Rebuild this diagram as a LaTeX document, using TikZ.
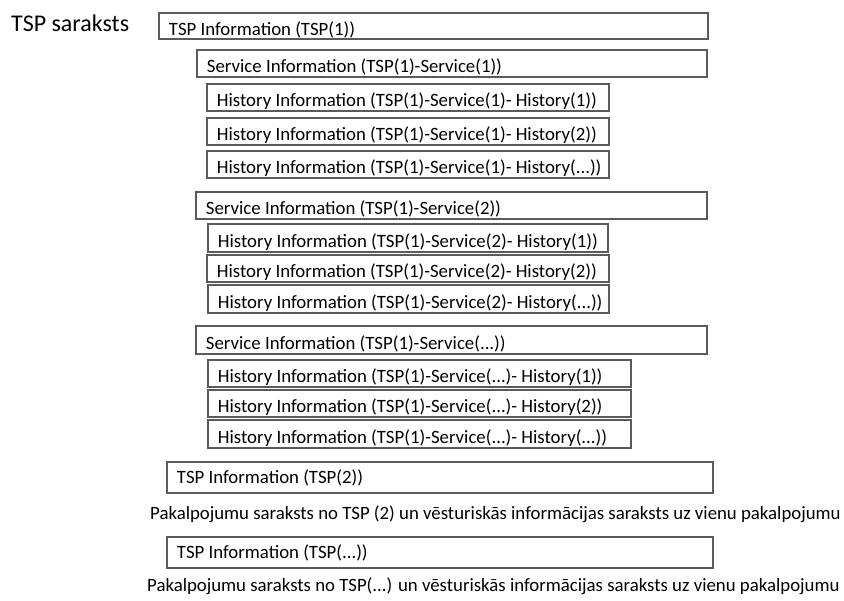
\documentclass[tikz,border=0pt]{standalone}
\usepackage{fontspec}
\setmainfont{Carlito}
\definecolor{boxline}{RGB}{90,90,90}
\newcommand\infobox[6]{%
  \pgfmathsetmacro\tw{#4-#2-20}%
  \node[bx, minimum width={(#4-#2)*1pt}, minimum height={(#5-#3)*1pt}] (#1) at (#2,#3) {\makebox[\tw pt][l]{#6}};%
}
\begin{document}
\begin{tikzpicture}[x=1pt,y=-1pt,
  bx/.style={draw=boxline, line width=1.9pt, anchor=north west, inner xsep=10pt, inner ysep=0pt,
    text height=20pt, text depth=1pt, font=\fontsize{18.8}{22}\selectfont},
  lowtext/.style={text height=14pt, text depth=2pt},
  note/.style={anchor=base west, inner sep=0pt, font=\fontsize{18.8}{22}\selectfont},
  ttl/.style={anchor=base west, inner sep=0pt, font=\fontsize{24}{28}\selectfont}]
\useasboundingbox (0,0) rectangle (844,601);
\node[ttl] (title) at (11,32) {TSP saraksts};
\infobox{t1}{158}{12}{707}{38}{TSP Information (TSP(1))}
\infobox{s11}{196}{49}{706}{76}{Service Information (TSP(1)-Service(1))}
\infobox{h111}{206}{83}{608}{110}{History Information (TSP(1)-Service(1)- History(1))}
\infobox{h112}{206}{117}{608}{144}{History Information (TSP(1)-Service(1)- History(2))}
\infobox{h113}{206}{150}{608}{177}{History Information (TSP(1)-Service(1)- History(...))}
\infobox{s12}{195}{191}{706}{218}{Service Information (TSP(1)-Service(2))}
\infobox{h121}{207}{223}{607}{251}{History Information (TSP(1)-Service(2)- History(1))}
\infobox{h122}{206}{254}{608}{281}{History Information (TSP(1)-Service(2)- History(2))}
\infobox{h123}{207}{284}{608}{312}{History Information (TSP(1)-Service(2)- History(...))}
\infobox{s1x}{195}{325}{706}{353}{Service Information (TSP(1)-Service(...))}
\infobox{h1x1}{207}{359}{630}{386}{History Information (TSP(1)-Service(...)- History(1))}
\infobox{h1x2}{207}{389}{630}{416}{History Information (TSP(1)-Service(...)- History(2))}
\infobox{h1x3}{207}{419}{630}{447}{History Information (TSP(1)-Service(...)- History(...))}
\tikzset{bx/.append style={lowtext}}
\infobox{t2}{166}{461}{712}{492}{TSP Information (TSP(2))}
\node[note] (n2) at (150,520) {Pakalpojumu saraksts no TSP (2) un vēsturiskās informācijas saraksts uz vienu pakalpojumu};
\infobox{t3}{166}{536}{712}{567}{TSP Information (TSP(...))}
\node[note] (n3) at (147,591) {Pakalpojumu saraksts no TSP(...) un vēsturiskās informācijas saraksts uz vienu pakalpojumu};
\end{tikzpicture}
\end{document}
